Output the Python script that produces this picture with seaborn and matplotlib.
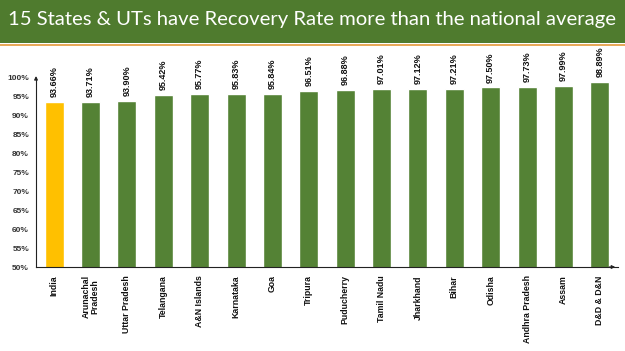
import matplotlib
matplotlib.use("Agg")
import matplotlib.pyplot as plt
import seaborn as sns
import pandas as pd
from matplotlib.patches import Rectangle

states = ["India", "Arunachal\nPradesh", "Uttar Pradesh", "Telangana", "A&N Islands",
          "Karnataka", "Goa", "Tripura", "Puducherry", "Tamil Nadu", "Jharkhand",
          "Bihar", "Odisha", "Andhra Pradesh", "Assam", "D&D & D&N"]
recovery = [93.66, 93.71, 93.90, 95.42, 95.77, 95.83, 95.84, 96.51, 96.88,
            97.01, 97.12, 97.21, 97.50, 97.73, 97.99, 98.89]
yticks = [50, 55, 60, 65, 70, 75, 80, 85, 90, 95, 100]
title = "15 States & UTs have Recovery Rate more than the national average"

GREEN = "#548235"
YELLOW = "#FFC000"
BANNER = "#4F7B2E"

sns.set_theme(style="white")
plt.rcParams["font.family"] = ["Liberation Sans", "DejaVu Sans"]

df = pd.DataFrame({"state": states, "rate": recovery})
colors = [YELLOW] + [GREEN] * (len(states) - 1)

fig = plt.figure(figsize=(6.25, 3.51), dpi=100)
ax = fig.add_axes([36 / 625, 1 - 267 / 351, 582 / 625, (267 - 78) / 351])

sns.barplot(data=df, x="state", y="rate", hue="state", palette=colors,
            legend=False, width=0.52, ax=ax, saturation=1)

ax.set_ylim(50, 100)
ax.set_xlim(-0.5, 15.5)
ax.set_yticks(yticks)
ax.set_yticklabels([f"{v}%" for v in yticks], fontsize=6, fontweight="bold", color="#333333")
ax.set_xticks(range(len(states)))
ax.set_xticklabels(states, rotation=90, fontsize=6.3, fontweight="bold", color="#111111",
                   linespacing=1.05, va="top", ha="center")
ax.tick_params(axis="both", length=0, pad=5)
ax.tick_params(axis="x", pad=6)
ax.set_xlabel("")
ax.set_ylabel("")
for s in ["top", "right"]:
    ax.spines[s].set_visible(False)
for s in ["left", "bottom"]:
    ax.spines[s].set_color("#222222")
    ax.spines[s].set_linewidth(0.8)

# arrows on axes
ax.annotate("", xy=(0, 1.025), xytext=(0, 0.98), xycoords="axes fraction",
            arrowprops=dict(arrowstyle="-|>", color="#222222", lw=0.8, mutation_scale=5),
            annotation_clip=False)
ax.annotate("", xy=(1.0, 0), xytext=(0.98, 0), xycoords="axes fraction",
            arrowprops=dict(arrowstyle="-|>", color="#222222", lw=0.8, mutation_scale=5),
            annotation_clip=False)

for i, v in enumerate(recovery):
    ax.text(i, v + 1.3, f"{v:.2f}%", rotation=90, ha="center", va="bottom",
            fontsize=6.5, fontweight="bold", color="#111111", clip_on=False)

# banner
fig.patches.append(Rectangle((0, 1 - 43 / 351), 1, 43 / 351, transform=fig.transFigure,
                             facecolor=BANNER, edgecolor="none", zorder=5))
fig.patches.append(Rectangle((0, 1 - 46 / 351), 1, 2 / 351, transform=fig.transFigure,
                             facecolor="#E8A95A", edgecolor="none", zorder=5))
fig.text(0.5, 1 - 20 / 351, title, ha="center", va="center", color="white",
         fontsize=14.6, family=["Lato", "DejaVu Sans"], zorder=6)

fig.savefig("out.png", dpi=100)
